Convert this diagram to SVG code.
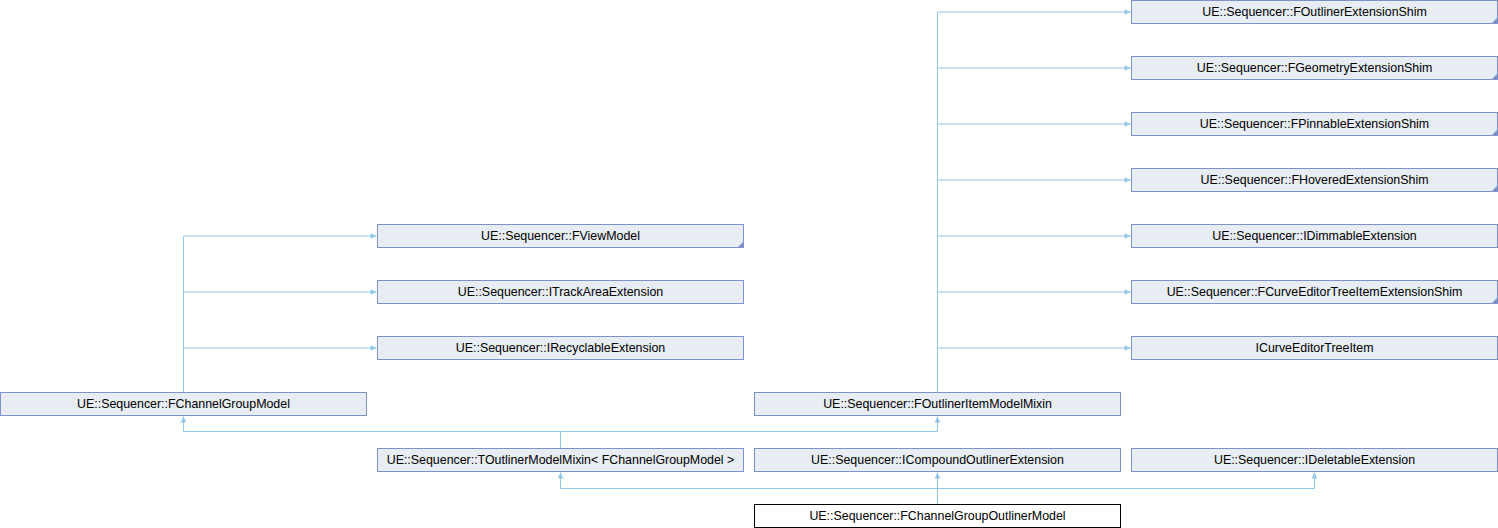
<svg xmlns="http://www.w3.org/2000/svg" width="1498" height="528" viewBox="0 0 1498 528">
<style>
.n rect{fill:#e8ecf5;stroke:#7d92c8;stroke-width:1}
.n.h rect{fill:#ffffff;stroke:#000000}
.n text{font-family:"Liberation Sans",Arial,sans-serif;font-size:12.4px;fill:#000;text-anchor:middle}
.n path{fill:#7d92c8;stroke:none}
#edges path{fill:none;stroke:#93c7ea;stroke-width:1}
</style>
<defs>
<marker id="a" markerUnits="userSpaceOnUse" markerWidth="8" markerHeight="8" viewBox="0 0 8 8" refX="7" refY="4" orient="auto">
<path d="M1,1.2 L7,4 L1,6.8 Z" fill="#93c7ea" stroke="none"/>
</marker>
</defs>
<rect width="1498" height="528" fill="#ffffff"/>
<g id="edges">
<path d="M183.5,392.5 V236 H376.5" marker-end="url(#a)"/>
<path d="M183.5,292 H376.5" marker-end="url(#a)"/>
<path d="M183.5,348 H376.5" marker-end="url(#a)"/>
<path d="M937.5,392.5 V12 H1130.5" marker-end="url(#a)"/>
<path d="M937.5,68 H1130.5" marker-end="url(#a)"/>
<path d="M937.5,124 H1130.5" marker-end="url(#a)"/>
<path d="M937.5,180 H1130.5" marker-end="url(#a)"/>
<path d="M937.5,236 H1130.5" marker-end="url(#a)"/>
<path d="M937.5,292 H1130.5" marker-end="url(#a)"/>
<path d="M937.5,348 H1130.5" marker-end="url(#a)"/>
<path d="M560.5,448.5 V431.5 H183.5 V416.5" marker-end="url(#a)"/>
<path d="M560.5,431.5 H937.5 V416.5" marker-end="url(#a)"/>
<path d="M937.5,504.5 V472.5" marker-end="url(#a)"/>
<path d="M937.5,488.5 H560.5 V472.5" marker-end="url(#a)"/>
<path d="M937.5,488.5 H1314.5 V472.5" marker-end="url(#a)"/>
</g>
<g id="n1" class="n"><rect x="1131.5" y="0.5" width="366" height="23"/><path d="M1497.5,17.5 V23.5 H1491.5 Z"/><text x="1314.5" y="16.4">UE::Sequencer::FOutlinerExtensionShim</text></g>
<g id="n2" class="n"><rect x="1131.5" y="56.5" width="366" height="23"/><path d="M1497.5,73.5 V79.5 H1491.5 Z"/><text x="1314.5" y="72.4">UE::Sequencer::FGeometryExtensionShim</text></g>
<g id="n3" class="n"><rect x="1131.5" y="112.5" width="366" height="23"/><path d="M1497.5,129.5 V135.5 H1491.5 Z"/><text x="1314.5" y="128.4">UE::Sequencer::FPinnableExtensionShim</text></g>
<g id="n4" class="n"><rect x="1131.5" y="168.5" width="366" height="23"/><path d="M1497.5,185.5 V191.5 H1491.5 Z"/><text x="1314.5" y="184.4">UE::Sequencer::FHoveredExtensionShim</text></g>
<g id="n5" class="n"><rect x="1131.5" y="224.5" width="366" height="23"/><text x="1314.5" y="240.4">UE::Sequencer::IDimmableExtension</text></g>
<g id="n6" class="n"><rect x="1131.5" y="280.5" width="366" height="23"/><path d="M1497.5,297.5 V303.5 H1491.5 Z"/><text x="1314.5" y="296.4">UE::Sequencer::FCurveEditorTreeItemExtensionShim</text></g>
<g id="n7" class="n"><rect x="1131.5" y="336.5" width="366" height="23"/><text x="1314.5" y="352.4">ICurveEditorTreeItem</text></g>
<g id="n8" class="n"><rect x="377.5" y="224.5" width="366" height="23"/><path d="M743.5,241.5 V247.5 H737.5 Z"/><text x="560.5" y="240.4">UE::Sequencer::FViewModel</text></g>
<g id="n9" class="n"><rect x="377.5" y="280.5" width="366" height="23"/><text x="560.5" y="296.4">UE::Sequencer::ITrackAreaExtension</text></g>
<g id="n10" class="n"><rect x="377.5" y="336.5" width="366" height="23"/><text x="560.5" y="352.4">UE::Sequencer::IRecyclableExtension</text></g>
<g id="n11" class="n"><rect x="0.5" y="392.5" width="366" height="23"/><text x="183.5" y="408.4">UE::Sequencer::FChannelGroupModel</text></g>
<g id="n12" class="n"><rect x="754.5" y="392.5" width="366" height="23"/><text x="937.5" y="408.4">UE::Sequencer::FOutlinerItemModelMixin</text></g>
<g id="n13" class="n"><rect x="377.5" y="448.5" width="366" height="23"/><text x="560.5" y="464.4">UE::Sequencer::TOutlinerModelMixin&lt; FChannelGroupModel &gt;</text></g>
<g id="n14" class="n"><rect x="754.5" y="448.5" width="366" height="23"/><text x="937.5" y="464.4">UE::Sequencer::ICompoundOutlinerExtension</text></g>
<g id="n15" class="n"><rect x="1131.5" y="448.5" width="366" height="23"/><text x="1314.5" y="464.4">UE::Sequencer::IDeletableExtension</text></g>
<g id="n16" class="n h"><rect x="754.5" y="504.5" width="366" height="23"/><text x="937.5" y="520.4">UE::Sequencer::FChannelGroupOutlinerModel</text></g>
</svg>
